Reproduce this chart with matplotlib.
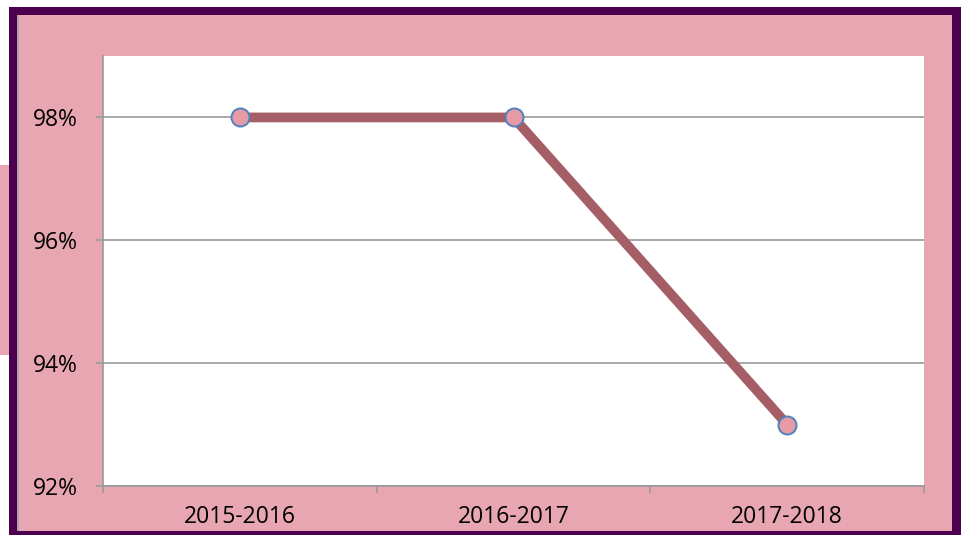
#!/usr/bin/env python3
import matplotlib.pyplot as plt
from matplotlib.patches import Rectangle
from matplotlib.ticker import FuncFormatter

# chart data
YEARS = ["2015-2016", "2016-2017", "2017-2018"]
RATES = [98, 98, 93]          # percent
Y_TICKS = [92, 94, 96, 98]

W, H = 962, 535
PURPLE = "#4e0050"
PINK = "#e7a6b1"
LINE = "#a65e66"
GRID = "#999999"


def px_rect(x0, y0, x1, y1, **kw):
    # rectangle given in pixel coords measured from the top-left corner
    return Rectangle((x0 / W, 1 - y1 / H), (x1 - x0) / W, (y1 - y0) / H,
                     transform=fig.transFigure, zorder=-10, **kw)


fig = plt.figure(figsize=(W / 100, H / 100), dpi=100)
fig.patch.set_facecolor("white")

# frame: purple border, pink fill, little pink strip on the far left
fig.patches.append(px_rect(0, 165, 9, 355, facecolor=PINK, edgecolor="none"))
fig.patches.append(px_rect(9, 7, 962, 535, facecolor=PURPLE, edgecolor="none"))
fig.patches.append(px_rect(17, 15, 952, 531, facecolor=PINK, edgecolor="none"))
fig.patches.append(px_rect(17, 15, 18.5, 531, facecolor="#b0a0a8", edgecolor="none"))

ax = fig.add_axes([103 / W, (H - 486) / H, (924 - 103) / W, (486 - 56) / H])
ax.set_facecolor("white")

x = list(range(len(YEARS)))
ax.plot(x, RATES, color=LINE, lw=7, solid_capstyle="butt", zorder=3,
        marker="o", markersize=13, markerfacecolor="#e59aa5",
        markeredgecolor="#4f81bd", markeredgewidth=1.4)

ax.set_xlim(-0.5, len(YEARS) - 0.5)
ax.set_ylim(92, 99)
ax.set_yticks(Y_TICKS)
ax.yaxis.set_major_formatter(FuncFormatter(lambda v, _: f"{v:.0f}%"))
ax.grid(axis="y", color=GRID, lw=1.2)
ax.set_axisbelow(True)

# category labels between boundary ticks
ax.set_xticks([i - 0.5 for i in range(len(YEARS) + 1)])
ax.set_xticklabels([])
ax.set_xticks(x, minor=True)
ax.set_xticklabels(YEARS, minor=True)
ax.tick_params(axis="x", which="minor", length=0, pad=14)
ax.tick_params(axis="x", which="major", length=5, width=1.2, color=GRID)
ax.tick_params(axis="y", length=5, width=1.2, color=GRID, pad=13)

for lab in ax.get_xticklabels(minor=True) + ax.get_yticklabels():
    lab.set_fontfamily("Open Sans")
    lab.set_fontsize(16.5)
    lab.set_color("black")

for side in ["top", "right"]:
    ax.spines[side].set_visible(False)
for side in ["left", "bottom"]:
    ax.spines[side].set_color(GRID)
    ax.spines[side].set_linewidth(1.2)

fig.savefig("out.png", dpi=100)
